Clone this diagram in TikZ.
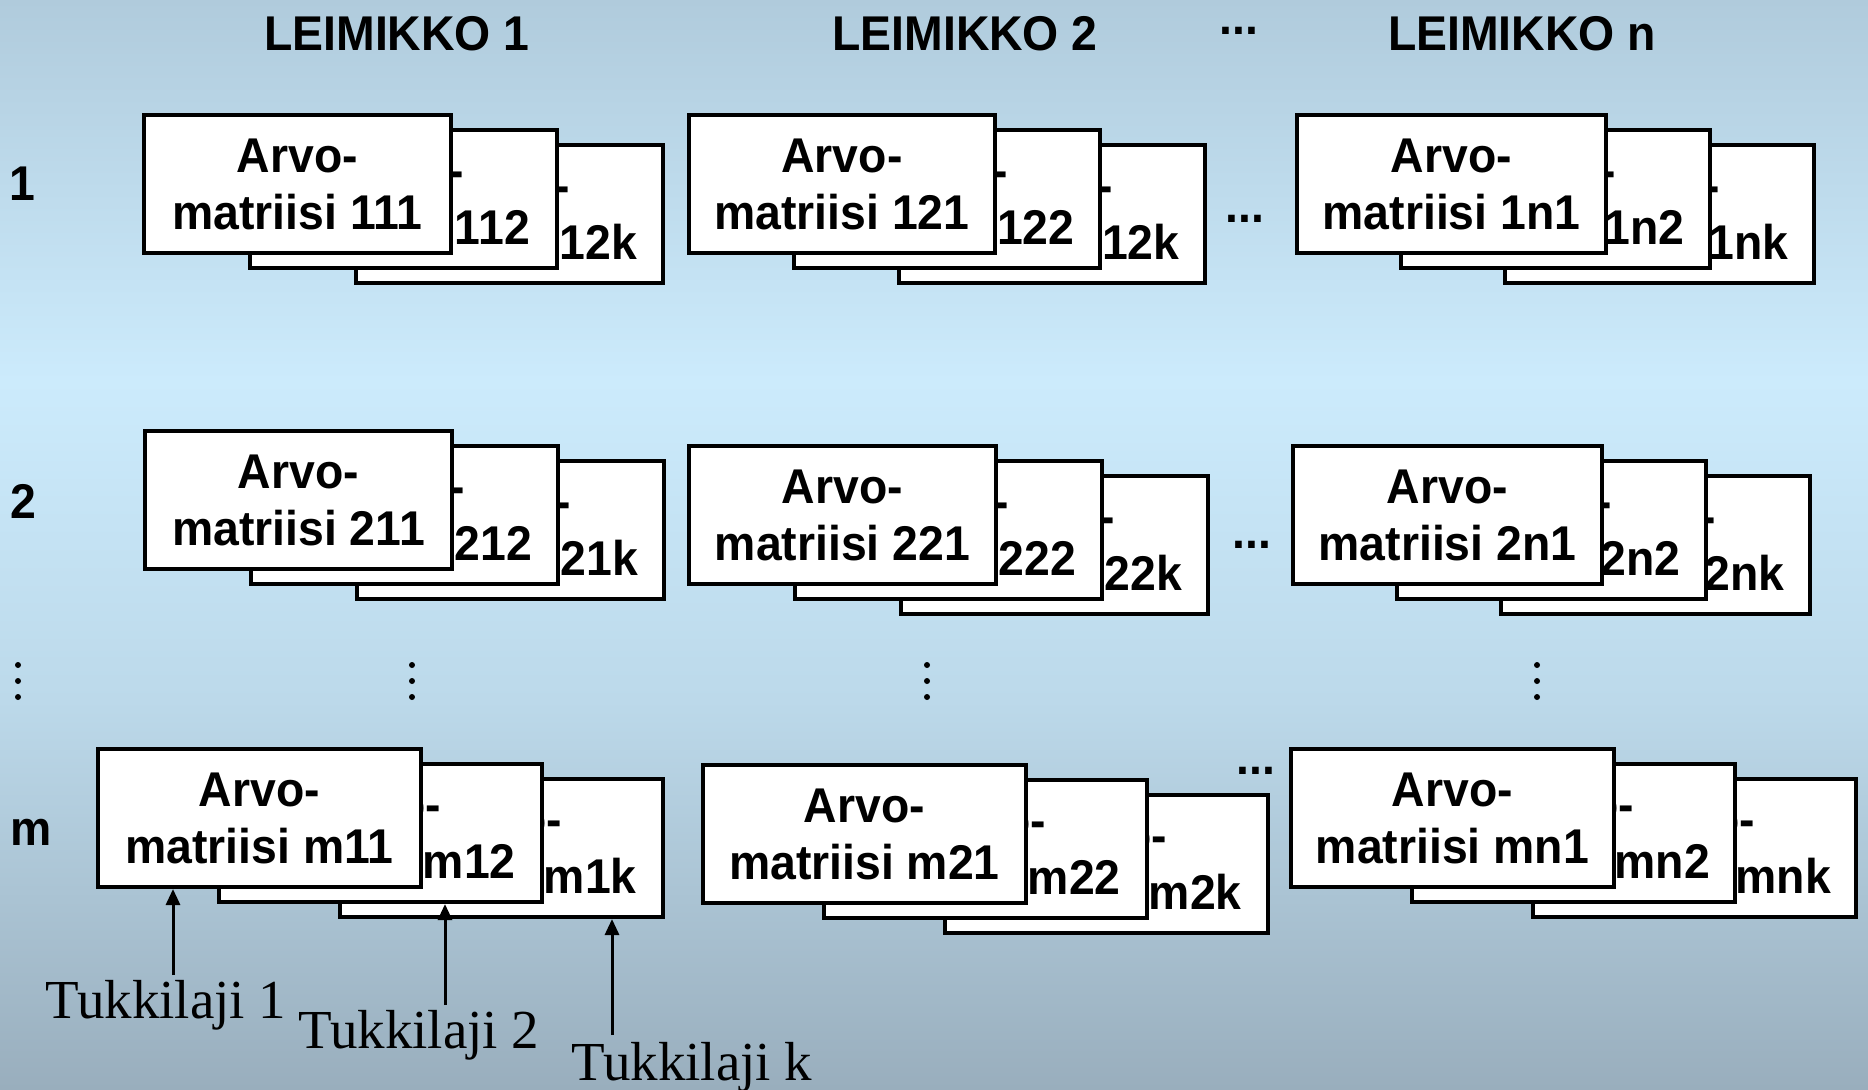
\documentclass[tikz,border=0pt]{standalone}
\usepackage{fontspec}
\setmainfont{Liberation Sans}
\newfontfamily\kapea{Liberation Sans}[FakeStretch=0.95]
\newfontfamily\serifi{Liberation Serif}
\usepackage{tikz}
\usetikzlibrary{arrows.meta, positioning}
\definecolor{TaustaYla}{HTML}{B0CBDC}
\definecolor{TaustaVaalea}{HTML}{CCEBFC}
\definecolor{TaustaKeski}{HTML}{BCD9EA}
\definecolor{TaustaAla}{HTML}{99AEBD}

\tikzset{
    matriisi/.style={draw=black, line width=2pt, fill=white, align=center, inner sep=0pt,
        minimum height=69pt, anchor=north west, font=\kapea\fontsize{24.4pt}{28.5pt}\selectfont\bfseries},
    otsikko/.style={anchor=base, inner sep=0pt, font=\kapea\fontsize{24.4pt}{28pt}\selectfont\bfseries},
    tukki/.style={anchor=base west, inner sep=0pt, font=\serifi\fontsize{27.5pt}{30pt}\selectfont},
    nuoli/.style={-{Triangle[length=8pt, width=7pt]}, line width=1.5pt}
}

% pino: nimi, x, y, leveys, siirto, kolme tunnusta
\newcommand{\arvopino}[8]{
    \node[matriisi, minimum width={(#4-4)*0.5pt}] (#1c) at (#2+2*#5, #3+30) {Arvo-\\matriisi #8};
    \node[matriisi, minimum width={(#4-4)*0.5pt}] (#1b) at (#2+#5, #3+15) {Arvo-\\matriisi #7};
    \node[matriisi, minimum width={(#4-4)*0.5pt}] (#1a) at (#2, #3) {Arvo-\\matriisi #6};
}

\begin{document}
\begin{tikzpicture}[x=0.5pt, y=-0.5pt]
        \useasboundingbox (0,0) rectangle (1868,1089);
        % Tausta
        \fill[top color=TaustaYla, bottom color=TaustaVaalea] (0,0) rectangle (1868,381);
        \fill[top color=TaustaVaalea, bottom color=TaustaKeski] (0,380) rectangle (1868,701);
        \fill[top color=TaustaKeski, bottom color=TaustaAla] (0,700) rectangle (1868,1089);

        % Otsikot
        \node[otsikko] (leim1) at (397,50) {LEIMIKKO 1};
        \node[otsikko] (leim2) at (965,50) {LEIMIKKO 2};
        \node[otsikko] (pis0) at (1239,34) {...};
        \node[otsikko] (leimn) at (1522,50) {LEIMIKKO n};

        \node[otsikko] (rivi1) at (22,200) {1};
        \node[otsikko] (rivi2) at (23,518) {2};
        \node[otsikko] (rivim) at (31,845) {m};

        % Rivi 1
        \arvopino{r1s1}{142}{113}{311}{106}{111}{112}{12k}
        \arvopino{r1s2}{687}{113}{310}{105}{121}{122}{12k}
        \arvopino{r1sn}{1295}{113}{313}{104}{1n1}{1n2}{1nk}
        \node[otsikko] (pis1) at (1245,222) {...};

        % Rivi 2
        \arvopino{r2s1}{143}{429}{311}{106}{211}{212}{21k}
        \arvopino{r2s2}{687}{444}{311}{106}{221}{222}{22k}
        \arvopino{r2sn}{1291}{444}{313}{104}{2n1}{2n2}{2nk}
        \node[otsikko] (pis2) at (1252,548) {...};

        % Pystypisteet
        \foreach \px in {18,412,927,1537}
            \foreach \py in {665,681,697}
                \fill (\px,\py) circle[radius=1.5pt];

        % Rivi m
        \arvopino{rms1}{96}{747}{327}{121}{m11}{m12}{m1k}
        \arvopino{rms2}{701}{763}{327}{121}{m21}{m22}{m2k}
        \arvopino{rmsn}{1289}{747}{327}{121}{mn1}{mn2}{mnk}
        \node[otsikko] (pism) at (1256,774) {...};

        % Tukkilajit
        \node[tukki] (tl1) at (45,1018) {Tukkilaji 1};
        \node[tukki] (tl2) at (298,1048) {Tukkilaji 2};
        \node[tukki] (tlk) at (571,1080) {Tukkilaji k};

        \coordinate (n1) at (173,975);
        \coordinate (n2) at (445,1005);
        \coordinate (nk) at (612,1035);
        \draw[nuoli] (n1) -- (n1 |- rms1a.south);
        \draw[nuoli] (n2) -- (n2 |- rms1b.south);
        \draw[nuoli] (nk) -- (nk |- rms1c.south);
\end{tikzpicture}
\end{document}
